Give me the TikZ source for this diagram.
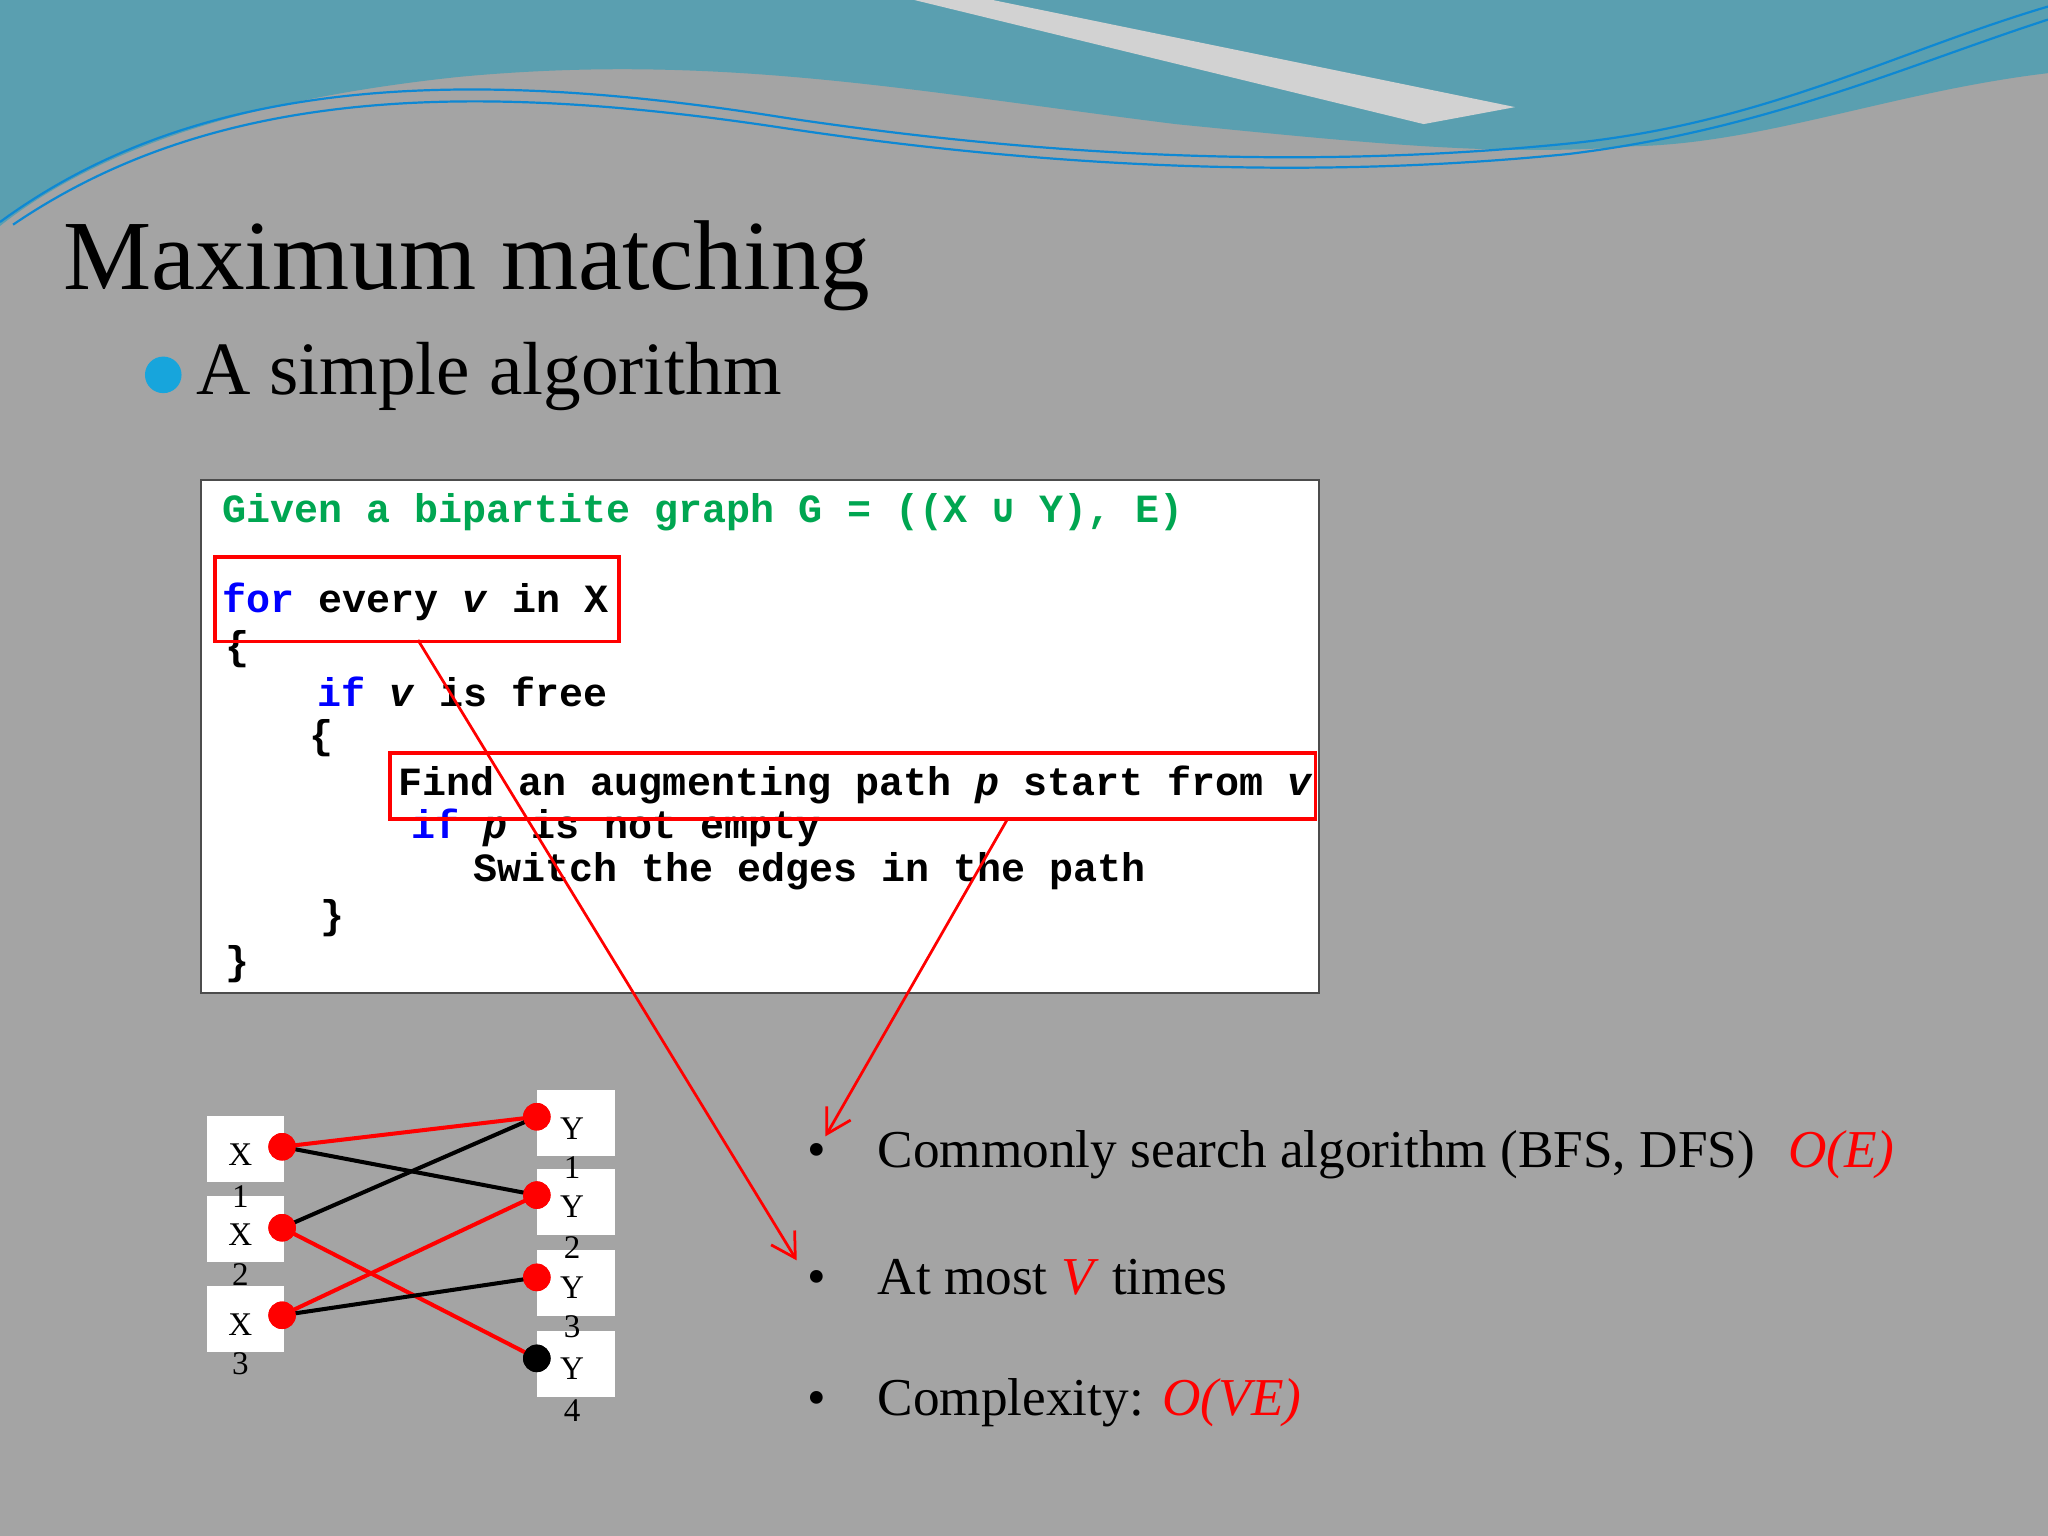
\documentclass[tikz,border=0pt]{standalone}
\usepackage{fontspec}
\setmainfont{Liberation Serif}
\setmonofont{Liberation Mono}
\newfontfamily\djm{DejaVu Sans Mono}
\usetikzlibrary{arrows.meta}
\definecolor{bg}{HTML}{A4A4A4}
\definecolor{teal1}{HTML}{5A9FB0}
\definecolor{cgreen}{HTML}{00A651}
\definecolor{cblue}{HTML}{0000FF}
\tikzset{
  dot/.style={circle,fill=red,inner sep=0pt,minimum size=15pt},
  lbl/.style={fill=white,inner sep=0pt,minimum width=42pt,minimum height=36pt},
  gtxt/.style={font=\fontsize{18pt}{18pt}\selectfont,inner sep=0pt},
  code/.style={anchor=west,inner sep=0pt,font=\ttfamily\bfseries\fontsize{21.8pt}{22pt}\selectfont},
  redbox/.style={draw=red,line width=2,inner sep=0pt},
  redarr/.style={draw=red,line width=1.5,-{Straight Barb[length=13,width=15,line width=1.5]}},
  edge/.style={line width=2.2},
  bul/.style={anchor=west,inner sep=0pt,font=\fontsize{29pt}{30pt}\selectfont}
}
\begin{document}
\begin{tikzpicture}[x=0.025cm,y=-0.025cm]
\useasboundingbox (0,0) rectangle (1568,1176);
\fill[bg] (0,0) rectangle (1568,1176);
% top wave
\fill[teal1] (0,0) -- (1568,0) -- (1568,56) .. controls (1450,70) and (1350,110) .. (1250,112)
  .. controls (1150,120) and (1050,110) .. (900,95) .. controls (700,70) and (550,40) .. (350,59)
  .. controls (200,75) and (80,110) .. (0,173) -- cycle;
\fill[bg!50!white] (700,0) -- (760,0) -- (1160,82) -- (1090,95) -- cycle;
\draw[cyan!70!blue,line width=1.2] (0,170) .. controls (150,60) and (350,50) .. (600,90) .. controls (800,120) and (1000,130) .. (1200,110) .. controls (1350,95) and (1450,40) .. (1568,5);
\draw[cyan!70!blue,line width=1.2] (10,172) .. controls (160,70) and (350,60) .. (600,98) .. controls (800,128) and (1000,138) .. (1200,118) .. controls (1350,100) and (1460,50) .. (1568,15);
% title
\node[anchor=base west,inner sep=0pt,font=\fontsize{54pt}{54pt}\selectfont] (title) at (48,222) {Maximum matching};
\fill[cyan!80!teal] (125,287) circle (14);
\node[anchor=base west,inner sep=0pt,font=\fontsize{41pt}{41pt}\selectfont] (sub) at (150,302) {A simple algorithm};
% code box
\node[draw=black!70,fill=white,line width=1,minimum width=609pt,minimum height=279pt,anchor=north west,inner sep=0pt] (box) at (153,367) {};
\node[code,text=cgreen] (l1) at (170,392) {Given a bipartite graph G = ((X {\djm\bfseries ∪} Y), E)};
\node[code] (l2) at (170,461) {\textcolor{cblue}{for} every \textit{v} in X};
\node[code] (l3) at (172,497) {\{};
\node[code] (l4) at (243,530) {\textcolor{cblue}{if} \textit{v} is free};
\node[code] (l5) at (237,565) {\{};
\node[code] (l6) at (305,601) {Find an augmenting path \textit{p} start from \textit{v}};
\node[code] (l7) at (315,634) {\textcolor{cblue}{if} \textit{p} is not empty};
\node[code] (l8) at (362,667) {Switch the edges in the path};
\node[code] (l9) at (245,703) {\}};
\node[code] (l10) at (172,738) {\}};
\node[redbox,minimum width=220pt,minimum height=46pt,anchor=north west] (rb1) at (163,425) {};
\node[redbox,minimum width=504pt,minimum height=36pt,anchor=north west] (rb2) at (297,575) {};
\coordinate (a1s) at (320,490);
\coordinate (a1e) at (610,965);
\coordinate (a2s) at (772,626);
\coordinate (a2e) at (632,870);
\draw[redarr] (a1s) -- (a1e);
\draw[redarr] (a2s) -- (a2e);
% graph labels
\node[lbl] (bx1) at (188,880) {};
\node[lbl] (bx2) at (188,941) {};
\node[lbl] (bx3) at (188,1010) {};
\node[lbl] (by1) at (441,860) {};
\node[lbl] (by2) at (441,920) {};
\node[lbl] (by3) at (441,982) {};
\node[lbl] (by4) at (441,1044) {};
\node[gtxt] at (184,884) {X};
\node[gtxt] at (184,916) {1};
\node[gtxt] at (184,945) {X};
\node[gtxt] at (184,976) {2};
\node[gtxt] at (184,1014) {X};
\node[gtxt] at (184,1044) {3};
\node[gtxt] at (438,864) {Y};
\node[gtxt] at (438,894) {1};
\node[gtxt] at (438,924) {Y};
\node[gtxt] at (438,955) {2};
\node[gtxt] at (438,986) {Y};
\node[gtxt] at (438,1016) {3};
\node[gtxt] at (438,1048) {Y};
\node[gtxt] at (438,1080) {4};
% graph
\node[dot] (x1) at (216,878) {};
\node[dot] (x2) at (216,940) {};
\node[dot] (x3) at (216,1007) {};
\node[dot] (y1) at (411,855) {};
\node[dot] (y2) at (411,915) {};
\node[dot] (y3) at (411,978) {};
\node[dot,fill=black] (y4) at (411,1040) {};
\draw[edge,red] (x1.center) -- (y1.center);
\draw[edge] (x1.center) -- (y2.center);
\draw[edge] (x2.center) -- (y1.center);
\draw[edge,red] (x2.center) -- (y4.center);
\draw[edge,red] (x3.center) -- (y2.center);
\draw[edge] (x3.center) -- (y3.center);
\foreach \n in {x1,x2,x3,y1,y2,y3} \fill[red] (\n) circle (10.5);
\fill[black] (y4) circle (10.5);
% bullets
\node[bul] (b1) at (618,884) {•\hspace{28pt}Commonly search algorithm (BFS, DFS)\hspace{18pt}\textcolor{red}{\textit{O(E)}}};
\node[bul] (b2) at (618,978) {•\hspace{28pt}At most \textcolor{red}{\textit{V}} times};
\node[bul] (b3) at (618,1074) {•\hspace{28pt}Complexity:\hspace{10pt}\textcolor{red}{\textit{O(VE)}}};
\end{tikzpicture}
\end{document}
